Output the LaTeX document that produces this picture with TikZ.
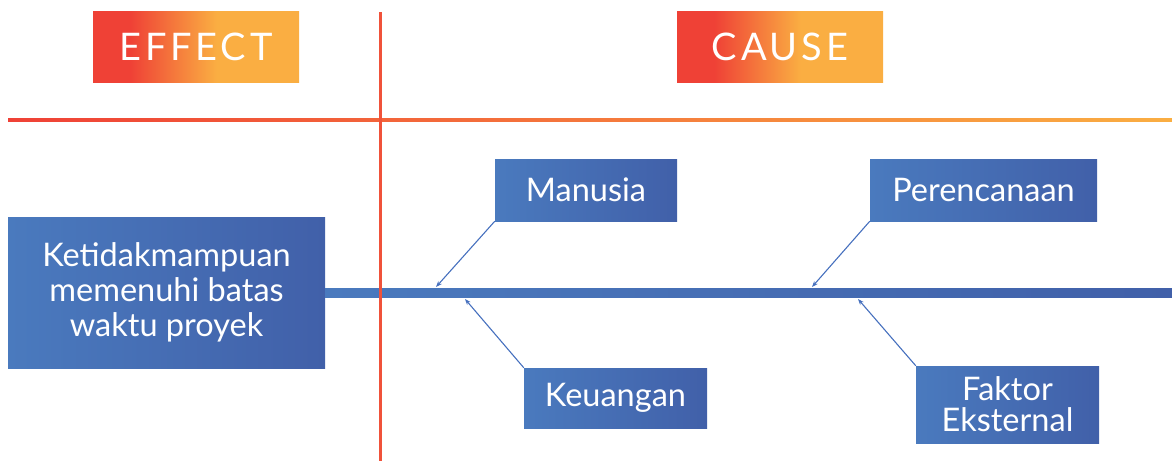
\documentclass[tikz,border=0pt]{standalone}
\usepackage{fontspec}
\setmainfont{Lato}
\usetikzlibrary{arrows.meta,calc}
\definecolor{effred}{RGB}{239,65,54}
\definecolor{efforange}{RGB}{250,174,66}
\definecolor{bluel}{RGB}{74,122,190}
\definecolor{blued}{RGB}{65,96,169}
\definecolor{connblue}{RGB}{70,112,190}
\definecolor{vred}{RGB}{240,82,58}
\pgfdeclarehorizontalshading{warm}{100bp}{color(0bp)=(effred); color(34bp)=(effred); color(55bp)=(efforange); color(100bp)=(efforange)}
\tikzset{
  bluebox/.style={left color=bluel, middle color=bluel, right color=blued, text=white,
    inner sep=0pt, align=center, font=\fontsize{32.5}{35}\selectfont},
  headbox/.style={shading=warm, text=white, inner sep=0pt, minimum width=206pt,
    minimum height=71pt, font=\fontsize{38}{40}\selectfont\addfontfeatures{LetterSpace=10}},
  conn/.style={draw=connblue, line width=1.1pt, -{Stealth[length=6pt,width=4.5pt]}}
}
\begin{document}
\begin{tikzpicture}[x=1pt,y=-1pt]
\useasboundingbox (0,0) rectangle (1172,461);
% header boxes
\node[headbox] (effect) at (196,46.5) {EFFECT};
\node[headbox] (cause) at (780,46.5) {CAUSE};
% horizontal divider
\fill[left color=effred, right color=efforange] (8,118.8) rectangle (1172,121.4);
% effect box
\node[bluebox, minimum width=317pt, minimum height=151pt] (lb) at (166.5,292.5)
  {Ketidakmampuan\\memenuhi batas\\waktu proyek};
% spine
\coordinate (spineend) at (1172,292.5);
\fill[left color=bluel, middle color=bluel!90!blued, right color=blued]
  ($(lb.east)+(0,-4.5)$) rectangle ($(spineend)+(0,4.5)$);
% vertical divider
\fill[vred] (379.4,12) rectangle (381.6,461);
% cause boxes
\node[bluebox, minimum width=182pt, minimum height=62pt] (m) at (586,190) {Manusia};
\node[bluebox, minimum width=227pt, minimum height=62pt] (p) at (983.5,190) {Perencanaan};
\node[bluebox, minimum width=183pt, minimum height=60pt] (k) at (615.5,398) {Keuangan};
\node[bluebox, minimum width=183pt, minimum height=77pt, font=\fontsize{32.5}{31}\selectfont] (f) at (1007.5,404.5) {Faktor\\Eksternal};
% arrow targets on spine
\coordinate (a1) at (436,287);
\coordinate (a2) at (812,287);
\coordinate (a3) at (465,299);
\coordinate (a4) at (858,299);
\draw[conn] (m.south west) -- (a1);
\draw[conn] (p.south west) -- (a2);
\draw[conn] (k.north west) -- (a3);
\draw[conn] (f.north west) -- (a4);
\end{tikzpicture}
\end{document}
